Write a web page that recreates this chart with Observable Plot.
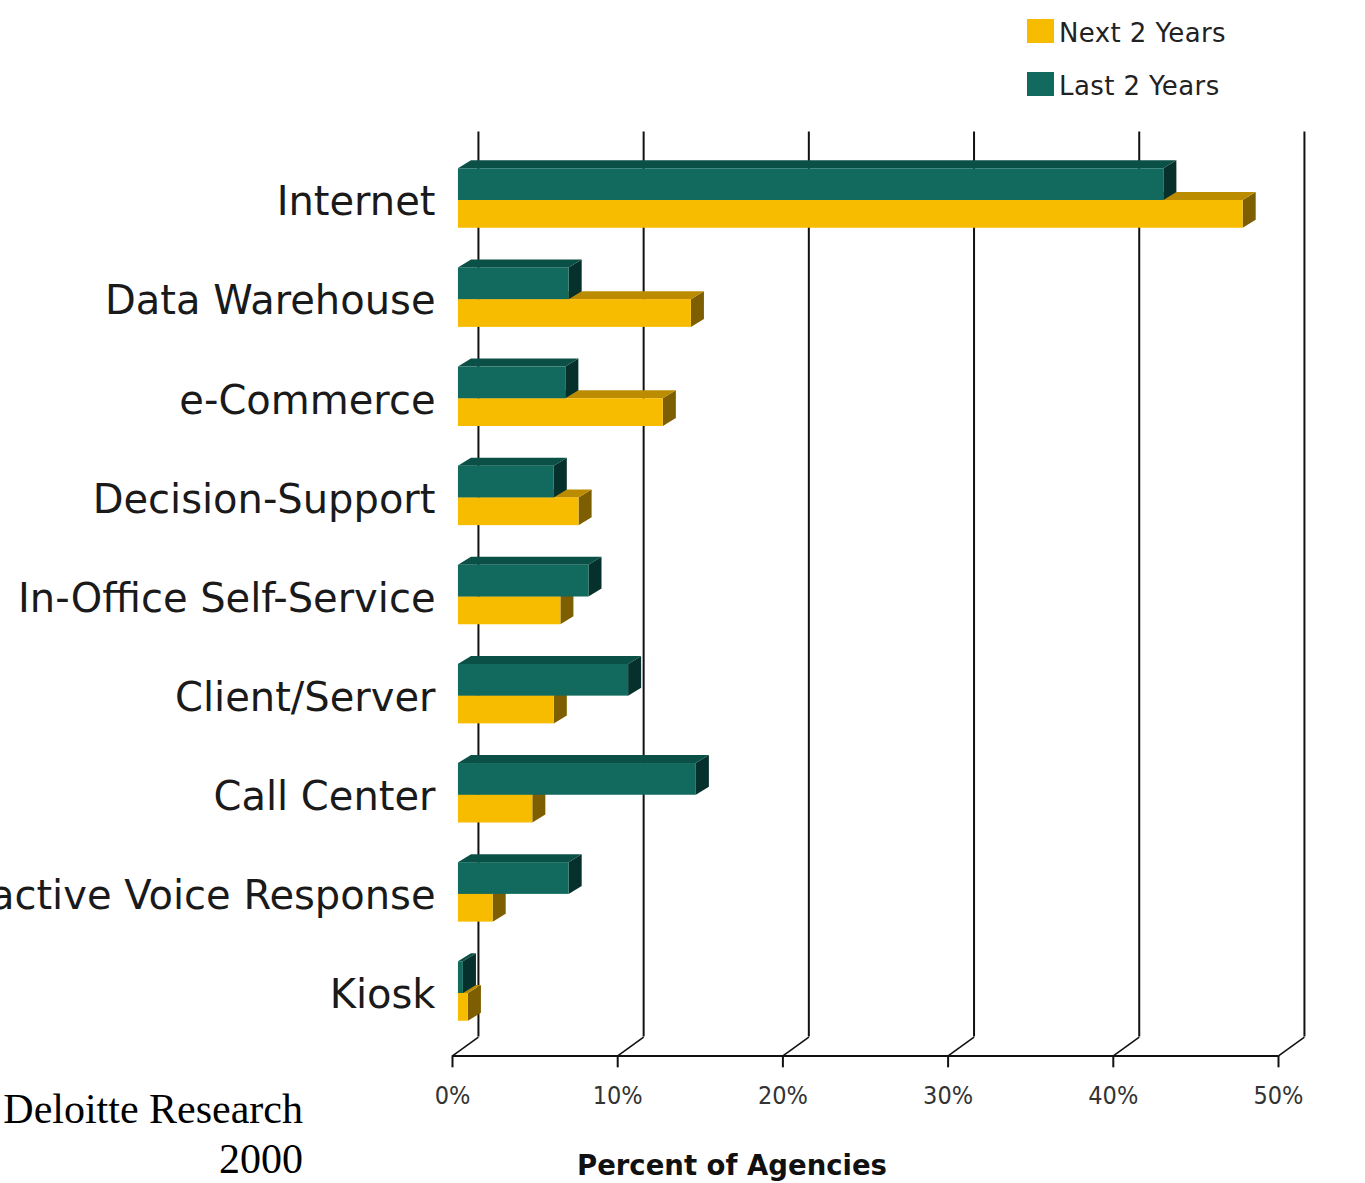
<!DOCTYPE html>
<html><head><meta charset="utf-8">
<script src="https://cdn.jsdelivr.net/npm/d3@7"></script>
<script src="https://cdn.jsdelivr.net/npm/@observablehq/plot@0.6"></script>
<style>
html,body{margin:0;padding:0;background:#fff;overflow:hidden;}
#wrap{position:relative;width:1365px;height:1183px;overflow:hidden;}
#chart{position:absolute;left:0;top:0;}
.sw{position:absolute;width:27px;height:24px;}
.lg{position:absolute;font-family:"DejaVu Sans",sans-serif;font-size:26px;line-height:26px;color:#222;white-space:nowrap;letter-spacing:0.4px;}
#source{position:absolute;left:0;top:1084px;width:303px;text-align:right;font-family:"Liberation Serif","Times New Roman",serif;font-size:42px;line-height:50px;color:#000;white-space:nowrap;}
#xlabel{position:absolute;left:532px;width:400px;top:1152px;text-align:center;font-family:"DejaVu Sans",sans-serif;font-weight:bold;font-size:27.5px;line-height:27px;color:#111;}
</style></head><body>
<div id="wrap">
  <div id="chart"></div>
  <div id="legend"></div>
  <div id="source">Deloitte Research<br>2000</div>
  <div id="xlabel">Percent of Agencies</div>
</div>
<script>
// ---- data ----
const categories = ["Internet","Data Warehouse","e-Commerce","Decision-Support","In-Office Self-Service","Client/Server","Call Center","Interactive Voice Response","Kiosk"];
const lastTwoYears = [42.7, 6.7, 6.5, 5.8, 7.9, 10.3, 14.4, 6.7, 0.3];
const nextTwoYears = [47.5, 14.1, 12.4, 7.3, 6.2, 5.8, 4.5, 2.1, 0.6];
const tickValues = [0, 10, 20, 30, 40, 50];
const seriesNames = ["Next 2 Years", "Last 2 Years"];

// ---- geometry (data units) ----
const floorY = 8.63, wallTopY = -0.69, depthX = 1.57, depthY = 0.19;
const barX0 = 0.36, barDX = 0.79, barDY = 0.08, tealH = 0.32, yellowH = 0.28, tickLen = 0.12;

const series = [
  {name: seriesNames[0], values: nextTwoYears, front: "#f7bb00", top: "#bb8c00", side: "#7d5e00", y1: i => i, y2: i => i + yellowH},
  {name: seriesNames[1], values: lastTwoYears, front: "#12695d", top: "#0b5047", side: "#06302c", y1: i => i - tealH, y2: i => i}
];

const marks = [
  // back wall grid lines
  Plot.ruleX(tickValues, {x: d => d + depthX, y1: wallTopY, y2: floorY - depthY, stroke: "#111", strokeWidth: 2}),
  // floor diagonals
  Plot.link(tickValues, {x1: d => d, y1: floorY, x2: d => d + depthX, y2: floorY - depthY, stroke: "#111", strokeWidth: 1.6}),
  // floor front edge
  Plot.ruleY([floorY], {x1: 0, x2: 50, stroke: "#111", strokeWidth: 2}),
  // tick marks
  Plot.ruleX(tickValues, {x: d => d, y1: floorY, y2: floorY + tickLen, stroke: "#111", strokeWidth: 2}),
  Plot.text(tickValues, {x: d => d, y: floorY, dy: 40, text: d => `${d}%`, fontSize: 25, fill: "#333", fontFamily: "DejaVu Sans Condensed, DejaVu Sans, sans-serif", letterSpacing: "-1px"}),
  // category labels
  Plot.text(categories, {x: 0, y: (d, i) => i, dx: -17, dy: 2, text: d => d, textAnchor: "end", fontSize: 40, fill: "#1a1a1a", fontFamily: "DejaVu Sans, sans-serif"})
];

for (const s of series) {
  const bars = categories.map((c, i) => ({id: c, x1: barX0, x2: barX0 + s.values[i], y1: s.y1(i), y2: s.y2(i)}));
  const sidePts = bars.flatMap(b => [
    {id: b.id, x: b.x2, y1: b.y1, y2: b.y2},
    {id: b.id, x: b.x2 + barDX, y1: b.y1 - barDY, y2: b.y2 - barDY}
  ]);
  const topPts = bars.flatMap(b => [
    {id: b.id, x1: b.x1, x2: b.x2, y: b.y1},
    {id: b.id, x1: b.x1 + barDX, x2: b.x2 + barDX, y: b.y1 - barDY}
  ]);
  marks.push(
    Plot.areaY(sidePts, {x: "x", y1: "y1", y2: "y2", z: "id", fill: s.side}),
    Plot.areaX(topPts, {x1: "x1", x2: "x2", y: "y", z: "id", fill: s.top}),
    Plot.rect(bars, {x1: "x1", x2: "x2", y1: "y1", y2: "y2", fill: s.front})
  );
}

const chart = Plot.plot({
  width: 1365,
  height: 1183,
  marginLeft: 452,
  marginRight: 87,
  marginTop: 200,
  marginBottom: 190,
  x: {domain: [0, 50], axis: null},
  y: {domain: [0, 8], reverse: true, axis: null},
  style: {background: "#fff", overflow: "visible"},
  marks
});
document.getElementById("chart").appendChild(chart);

// legend
const legend = document.getElementById("legend");
const legendTops = [19, 72];
series.forEach((s, k) => {
  const sw = document.createElement("div");
  sw.className = "sw";
  sw.style.left = "1027px";
  sw.style.top = legendTops[k] + "px";
  sw.style.background = s.front;
  legend.appendChild(sw);
  const t = document.createElement("div");
  t.className = "lg";
  t.style.left = "1059px";
  t.style.top = (legendTops[k] + 1) + "px";
  t.textContent = s.name;
  legend.appendChild(t);
});
</script>
</body></html>
